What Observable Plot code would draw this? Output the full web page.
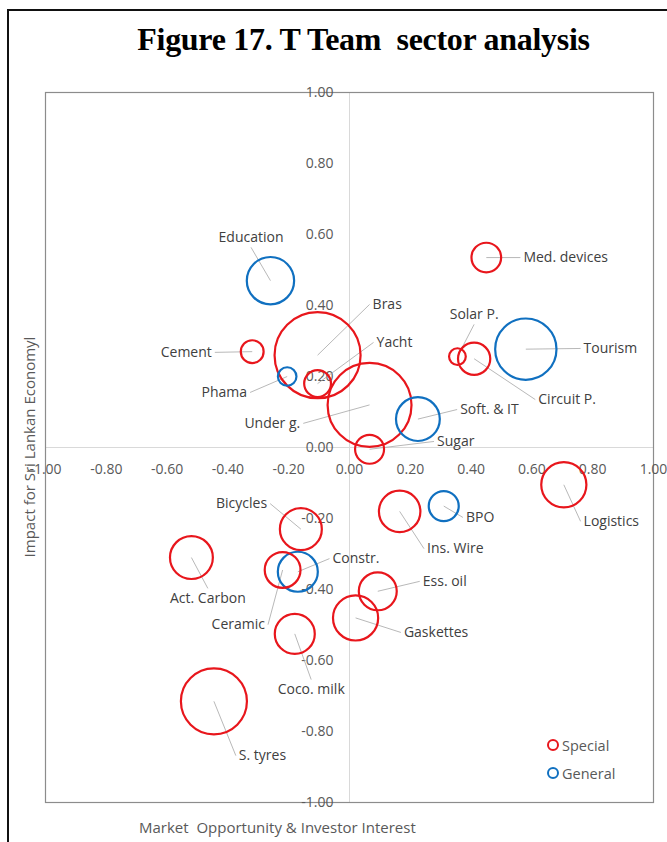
<!DOCTYPE html>
<html>
<head>
<meta charset="utf-8">
<script src="https://cdn.jsdelivr.net/npm/d3@7"></script>
<script src="https://cdn.jsdelivr.net/npm/@observablehq/plot@0.6"></script>
<style>
  html, body { margin: 0; padding: 0; background: #fff; }
  #wrap { position: relative; width: 667px; height: 842px; overflow: hidden; }
  #border { position: absolute; left: 7px; top: 9px; width: 700px; height: 900px; border: 2px solid #111; box-sizing: border-box; }
  #title { position: absolute; left: 0; width: 727px; top: 21px; text-align: center; font-family: "Liberation Serif", serif; font-weight: bold; font-size: 32px; color: #000; letter-spacing: -0.3px; }
  #ytitle { position: absolute; left: 29px; top: 447px; transform: translate(-50%, -50%) rotate(-90deg); white-space: nowrap; font-family: "Open Sans", sans-serif; font-size: 15px; color: #595959; }
  #xtitle { position: absolute; left: 139px; top: 817px; white-space: pre; font-family: "Open Sans", sans-serif; font-size: 15px; color: #595959; }
  #legend { position: absolute; left: 547px; top: 731px; font-family: "Open Sans", sans-serif; font-size: 14.5px; color: #595959; }
  #legend div { display: flex; align-items: center; height: 28px; }
  #legend span.m { display: inline-block; width: 8px; height: 8px; border-radius: 50%; border: 2.2px solid; margin-right: 3px; }
  #chart { position: absolute; left: 0; top: 0; }
</style>
</head>
<body>
<div id="wrap">
  <div id="chart"></div>
  <div id="border"></div>
  <div id="title">Figure 17. T Team&nbsp; sector analysis</div>
  <div id="ytitle">Impact for Sri Lankan Economyl</div>
  <div id="xtitle">Market  Opportunity &amp; Investor Interest</div>
  <div id="legend"></div>
</div>
<script>
// Sector names
const names = ["Education","Cement","Phama","Bras","Yacht","Under g.","Sugar","Soft. & IT","Solar P.","Circuit P.","Tourism","Med. devices","Logistics","BPO","Ins. Wire","Ess. oil","Gaskettes","Bicycles","Act. Carbon","Ceramic","Constr.","Coco. milk","S. tyres"];
// Market Opportunity & Investor Interest (x)
const xValues = [-0.26,-0.32,-0.205,-0.105,-0.105,0.066,0.066,0.225,0.355,0.41,0.58,0.45,0.705,0.31,0.165,0.093,0.02,-0.16,-0.52,-0.22,-0.17,-0.18,-0.446];
// Impact for Sri Lankan Economy (y)
const yValues = [0.47,0.27,0.20,0.26,0.18,0.12,-0.005,0.08,0.256,0.25,0.277,0.535,-0.105,-0.165,-0.18,-0.405,-0.48,-0.23,-0.31,-0.345,-0.35,-0.525,-0.715];
// Bubble size
const sizes = [5.6,1.3,0.86,18.5,1.8,17.6,2.1,4.8,0.7,2.6,9.4,2.2,5.1,2.25,4.3,3.6,5.1,4.4,4.6,3.2,4.0,4.0,10.9];
// Sector type
const types = ["General","Special","General","Special","Special","Special","Special","General","Special","Special","General","Special","Special","General","Special","Special","Special","Special","Special","Special","General","Special","Special"];
// Data-label placement (in axis units) and text anchor
const labelX = [-0.324,-0.453,-0.337,0.076,0.089,-0.162,0.288,0.364,0.410,0.621,0.770,0.572,0.770,0.383,0.255,0.241,0.179,-0.271,-0.466,-0.278,-0.056,-0.126,-0.364];
const labelY = [0.592,0.268,0.155,0.403,0.296,0.068,0.017,0.107,0.375,0.135,0.279,0.535,-0.208,-0.197,-0.285,-0.377,-0.521,-0.158,-0.425,-0.499,-0.313,-0.682,-0.868];
const labelAnchor = ["middle","end","end","start","start","end","start","start","middle","start","start","start","start","start","start","start","start","end","middle","end","start","middle","start"];
// Tick values
const xTicks = [-1,-0.8,-0.6,-0.4,-0.2,0,0.2,0.4,0.6,0.8,1];
const yTicks = [-1,-0.8,-0.6,-0.4,-0.2,0,0.2,0.4,0.6,0.8,1];
const seriesNames = ["Special","General"];
const seriesColors = ["#e8161c","#1070c0"];

const data = names.map((name, i) => ({
  name, x: xValues[i], y: yValues[i], size: sizes[i], type: types[i],
  lx: labelX[i], ly: labelY[i], anchor: labelAnchor[i]
}));

const px = 1 / 302.5, py = 1 / 355; // one pixel in axis units, for leader ends
data.forEach(d => {
  if (d.anchor === "start") { d.ex = d.lx - 3 * px; d.ey = d.ly; }
  else if (d.anchor === "end") { d.ex = d.lx + 3 * px; d.ey = d.ly; }
  else { d.ex = d.lx; d.ey = d.ly + (d.y > d.ly ? 10 : -10) * py; }
});

const fmt = d => d.toFixed(2);
const labelFont = {fontFamily: "Open Sans, sans-serif", fontSize: 14, fill: "#404040"};

const chart = Plot.plot({
  width: 667,
  height: 842,
  marginLeft: 45,
  marginRight: 14,
  marginTop: 92,
  marginBottom: 40,
  x: {domain: [-1, 1], axis: null},
  y: {domain: [-1, 1], axis: null},
  r: {type: "sqrt", domain: [0, 100], range: [0, 100]},
  color: {domain: seriesNames, range: seriesColors},
  marks: [
    Plot.ruleX([0], {stroke: "#d9d9d9", strokeWidth: 1}),
    Plot.ruleY([0], {stroke: "#d9d9d9", strokeWidth: 1}),
    Plot.frame({stroke: "#8c8c8c", strokeWidth: 1.2}),
    Plot.text(xTicks, {x: d => d, y: 0, dy: 22, text: d => fmt(d), fontFamily: "Open Sans, sans-serif", fontSize: 14, fill: "#595959"}),
    Plot.text(yTicks, {x: 0, y: d => d, dx: -16, textAnchor: "end", text: d => fmt(d), fontFamily: "Open Sans, sans-serif", fontSize: 14, fill: "#595959"}),
    Plot.link(data, {x1: "x", y1: "y", x2: "ex", y2: "ey", stroke: "#a6a6a6", strokeWidth: 0.8}),
    Plot.dot(data, {x: "x", y: "y", r: "size", stroke: "type", fill: "none", strokeWidth: 2.2}),
    Plot.text(data.filter(d => d.anchor === "start"), {x: "lx", y: "ly", text: "name", textAnchor: "start", ...labelFont}),
    Plot.text(data.filter(d => d.anchor === "end"), {x: "lx", y: "ly", text: "name", textAnchor: "end", ...labelFont}),
    Plot.text(data.filter(d => d.anchor === "middle"), {x: "lx", y: "ly", text: "name", textAnchor: "middle", ...labelFont})
  ]
});
document.getElementById("chart").appendChild(chart);

const legend = document.getElementById("legend");
seriesNames.forEach((s, i) => {
  const row = document.createElement("div");
  const m = document.createElement("span");
  m.className = "m";
  m.style.borderColor = seriesColors[i];
  row.appendChild(m);
  row.appendChild(document.createTextNode(s));
  legend.appendChild(row);
});
</script>
</body>
</html>
